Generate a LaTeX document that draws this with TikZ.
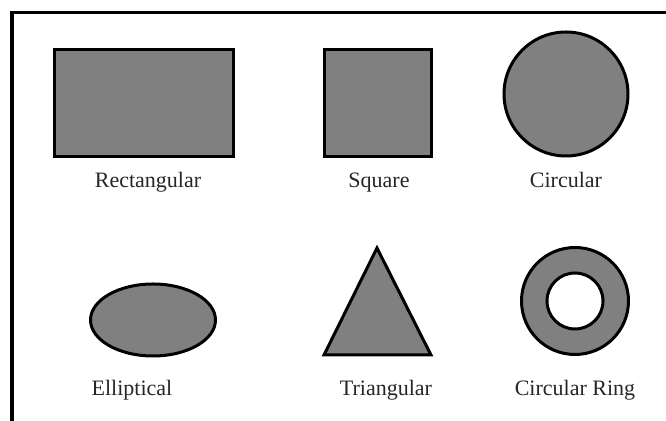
\documentclass[tikz,border=0pt]{standalone}
\usepackage{fontspec}
\setmainfont{Liberation Serif}
\usetikzlibrary{shapes.geometric}

\begin{document}
\begin{tikzpicture}[
  x=0.5pt, y=-0.5pt,
  font=\fontsize{11}{13}\selectfont,
  shp/.style={draw=black, fill=black!50, line width=1.5pt, inner sep=0pt},
  hole/.style={draw=black, fill=white, line width=1.5pt, inner sep=0pt},
  lbl/.style={anchor=base, inner sep=0pt, text=black!85},
  frame/.style={draw=black, line width=1.5pt}
]
\useasboundingbox (0,0) rectangle (666,421);
\draw[frame] (12,421) -- (12,13) -- (666,13);
% top row
\node[shp, rectangle, minimum width=89.5pt, minimum height=53.5pt] (rect) at (144,103) {};
\node[shp, rectangle, minimum width=53.5pt, minimum height=53.5pt] (sq) at (377.5,103.5) {};
\node[shp, circle, minimum size=62pt] (circ) at (566,94) {};
\node[lbl] (lrect) at (148,188) {Rectangular};
\node[lbl] (lsq) at (379,188) {Square};
\node[lbl] (lcirc) at (566,188) {Circular};
% bottom row
\node[shp, ellipse, minimum width=62.5pt, minimum height=36pt] (ell) at (153,320) {};
\draw[shp] (377,248) -- (431,355) -- (324,355) -- cycle;
\node[shp, circle, minimum size=53.5pt] (ring) at (575,301) {};
\node[hole, circle, minimum size=28pt] (ringin) at (ring.center) {};
\node[lbl] (lell) at (132,396) {Elliptical};
\node[lbl] (ltri) at (386,396) {Triangular};
\node[lbl] (lring) at (575,396) {Circular Ring};
\end{tikzpicture}
\end{document}
